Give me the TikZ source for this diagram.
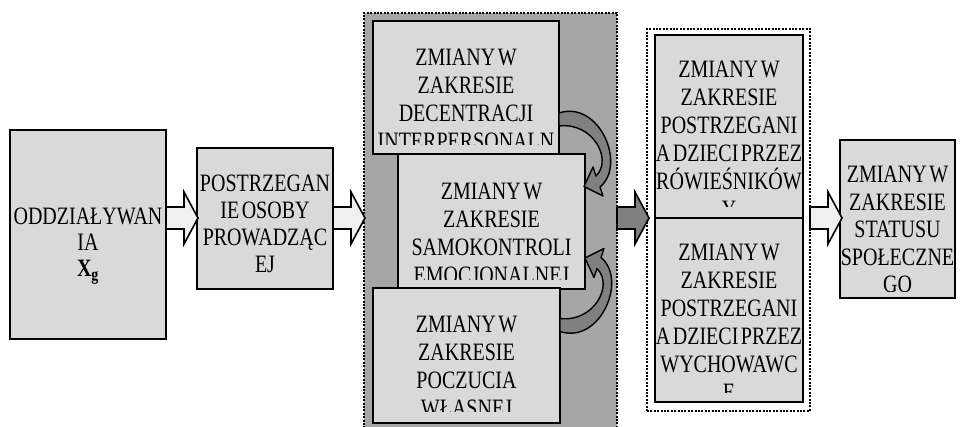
\documentclass[tikz,border=0pt]{standalone}
\usepackage{fontspec}
\setmainfont{Liberation Serif}[FakeStretch=0.8, WordSpace=0.5]
\usetikzlibrary{positioning}
\definecolor{boxgray}{RGB}{217,217,217}
\definecolor{grpgray}{RGB}{166,166,166}
\definecolor{arrowlight}{RGB}{240,240,240}
\definecolor{arrowdark}{RGB}{128,128,128}

\tikzset{
  stage/.style={draw, line width=1.2pt, fill=boxgray, inner sep=0pt, outer sep=0pt},
  peer/.style={draw, line width=2pt, fill=boxgray, inner sep=0pt, outer sep=0pt},
  group/.style={draw, line width=2pt, dash pattern=on 2pt off 1.4pt, inner sep=0pt, outer sep=0pt},
  lbl/.style={align=center, inner sep=0pt, font=\fontsize{25}{28}\selectfont},
  pics/blockarrow/.style={code={
    \filldraw[line width=1.6pt, line join=miter, fill=#1] (0,-11) -- (18,-11) -- (18,-26) -- (32,0) -- (18,26) -- (18,11) -- (0,11) -- cycle;
  }},
  pics/bendarrow/.style={code={
    \filldraw[line width=1.4pt, line join=round, fill=arrowdark] (0,-6.5) .. controls (40,-19.5) and (68,45) .. (41,67.5) -- (44,76.5) -- (25,67) -- (34,47.5) -- (37,56.5) .. controls (54,40) and (34,2.5) .. (0,6.5) -- cycle;
  }}
}

% text of a box, cut off at the inner margin (#3 = drop of the first baseline)
\newcommand\boxlabel[4][9]{%
  \begin{scope}
    \clip ([xshift=1pt,yshift=#1pt]#2.south west) rectangle ([xshift=-1pt,yshift=-2pt]#2.north east);
    \node[lbl, anchor=north] at ([yshift={19.6-#3}]#2.north) {\strut #4};
  \end{scope}}

\begin{document}
\begin{tikzpicture}[x=1pt, y=-1pt]
  \useasboundingbox (0,0) rectangle (962,427);
  \coordinate (axis) at (0,218);

  % groups
  \node[group, fill=grpgray, minimum width=253, minimum height=427] (grpzmiany) at (490.5,226.5) {};
  \node[group, fill=white, minimum width=163, minimum height=382] (grpspol) at (728.5,220) {};

  % boxes
  \node[stage, minimum width=156, minimum height=209] (odd) at (88,234.5) {};
  \node[stage, minimum width=136, minimum height=141] (postr) at (265,218.5) {};
  \node[stage, minimum width=186, minimum height=133] (decen) at (466,87.5) {};
  \node[stage, minimum width=187, minimum height=135] (samok) at (491.5,221.5) {};
  \node[stage, minimum width=187, minimum height=135] (poczu) at (466.5,355.5) {};
  \node[peer, minimum width=148, minimum height=183] (rowie) at (729,126.5) {};
  \node[peer, minimum width=148, minimum height=184, below=0pt of rowie] (wycho) {};
  \node[stage, minimum width=115, minimum height=158] (status) at (897.5,219) {};

  \boxlabel{odd}{94.5}{ODDZIAŁYWAN\\[-2pt]IA\\[-2pt]{\bfseries X\textsubscript{g}}}
  \boxlabel{postr}{43.5}{POSTRZEGAN\\[-1pt]IE OSOBY\\[-1pt]PROWADZĄC\\[-1pt]EJ}
  \boxlabel{decen}{44.5}{ZMIANY W\\ZAKRESIE\\DECENTRACJI\\INTERPERSONALN}
  \boxlabel{samok}{45.5}{ZMIANY W\\ZAKRESIE\\SAMOKONTROLI\\EMOCJONALNEJ}
  \boxlabel[11]{poczu}{44.5}{ZMIANY W\\ZAKRESIE\\POCZUCIA\\WŁASNEJ}
  \boxlabel[11]{rowie}{42.5}{ZMIANY W\\ZAKRESIE\\POSTRZEGANI\\A DZIECI PRZEZ\\RÓWIEŚNIKÓW\\Y}
  \boxlabel{wycho}{42.5}{ZMIANY W\\ZAKRESIE\\POSTRZEGANI\\A DZIECI PRZEZ\\WYCHOWAWC\\E}
  \boxlabel[6]{status}{42.5}{ZMIANY W\\[-0.5pt]ZAKRESIE\\[-0.5pt]STATUSU\\[-0.5pt]SPOŁECZNE\\[-0.5pt]GO}

  % arrows
  \pic at (odd.east |- axis) {blockarrow=arrowlight};
  \pic at (postr.east |- axis) {blockarrow=arrowlight};
  \pic at (grpzmiany.east |- axis) {blockarrow=arrowdark};
  \pic at (grpspol.east |- axis) {blockarrow=arrowlight};
  \pic at ([yshift=-32pt]decen.east) {bendarrow};
  \pic[yscale=-1] at ([yshift=30.5pt]poczu.east) {bendarrow};
\end{tikzpicture}
\end{document}
